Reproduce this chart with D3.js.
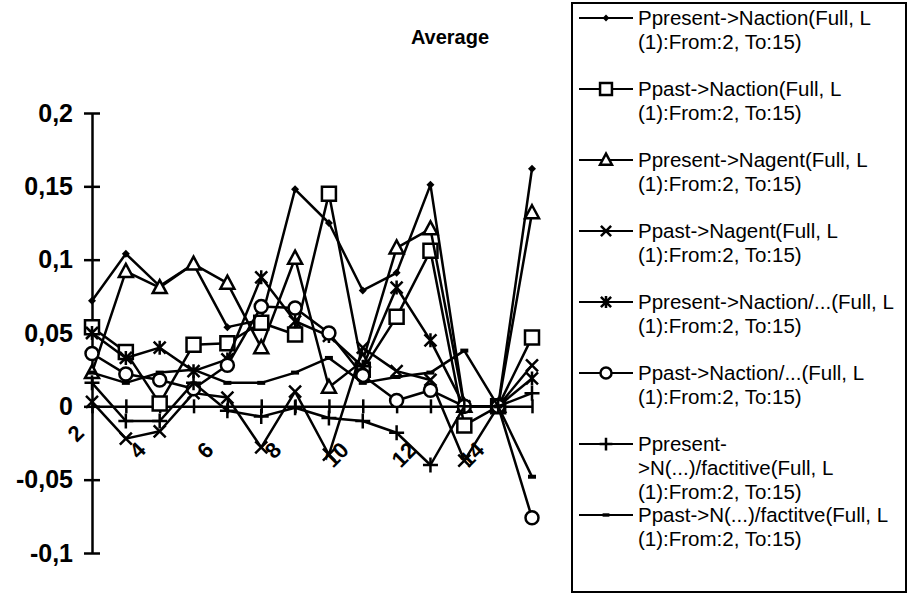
<!DOCTYPE html>
<html>
<head>
<meta charset="utf-8">
<script src="https://cdn.jsdelivr.net/npm/d3@7"></script>
<style>
  body { margin: 0; background: #fff; }
  svg { display: block; }
</style>
</head>
<body>
<svg id="chart" width="908" height="594"></svg>
<script>
// Categories (window start) and the labelled subset
const categories = [2, 3, 4, 5, 6, 7, 8, 9, 10, 11, 12, 13, 14, 15];
const xTickLabels = [2, 4, 6, 8, 10, 12, 14];
const yTicks = [-0.1, -0.05, 0, 0.05, 0.1, 0.15, 0.2];

// Series values, one per category
const presentAction       = [0.072, 0.104, 0.082, 0.097, 0.054, 0.059, 0.148, 0.125, 0.079, 0.091, 0.151, 0, 0, 0.162];
const pastAction          = [0.054, 0.037, 0.002, 0.042, 0.043, 0.057, 0.049, 0.145, 0.025, 0.061, 0.106, -0.013, 0, 0.047];
const presentAgent        = [0.023, 0.092, 0.081, 0.097, 0.084, 0.040, 0.101, 0.013, 0.031, 0.108, 0.121, 0, 0, 0.132];
const pastAgent           = [0.003, -0.022, -0.017, 0.009, 0.006, -0.028, 0.010, -0.033, 0.040, 0.024, 0.018, -0.037, 0, 0.028];
const presentActionOther  = [0.050, 0.033, 0.040, 0.024, 0.032, 0.088, 0.058, 0.048, 0.027, 0.081, 0.045, 0, 0, 0.019];
const pastActionOther     = [0.036, 0.022, 0.018, 0.012, 0.028, 0.068, 0.067, 0.050, 0.021, 0.004, 0.011, 0, 0, -0.076];
const presentFactitive    = [0.016, -0.010, -0.010, 0.016, -0.003, -0.007, -0.001, -0.008, -0.010, -0.018, -0.040, 0, 0, 0.009];
const pastFactitive       = [0.023, 0.016, 0.023, 0.025, 0.016, 0.016, 0.023, 0.033, 0.016, 0.020, 0.023, 0.038, 0, -0.048];

const seriesNames = [
  "Ppresent->Naction(Full, L (1):From:2, To:15)",
  "Ppast->Naction(Full, L (1):From:2, To:15)",
  "Ppresent->Nagent(Full, L (1):From:2, To:15)",
  "Ppast->Nagent(Full, L (1):From:2, To:15)",
  "Ppresent->Naction/...(Full, L (1):From:2, To:15)",
  "Ppast->Naction/...(Full, L (1):From:2, To:15)",
  "Ppresent->N(...)/factitive(Full, L (1):From:2, To:15)",
  "Ppast->N(...)/factitve(Full, L (1):From:2, To:15)"
];
const seriesValues = [presentAction, pastAction, presentAgent, pastAgent,
                      presentActionOther, pastActionOther, presentFactitive, pastFactitive];
const seriesMarkers = ["diamond", "square", "triangle", "x", "star", "circle", "plus", "dash"];

const W = 908, H = 594;
const FONT = "'Liberation Sans', Arial, Helvetica, sans-serif";
const svg = d3.select("#chart");
svg.append("rect").attr("width", W).attr("height", H).attr("fill", "#fff");

const x = d3.scalePoint().domain(categories).range([92, 532]);
const y = d3.scaleLinear().domain([-0.1, 0.2]).range([553, 113]);

// Marker shapes, centred on the origin
function markerPath(type, k = 1) {
  const p = d3.path();
  switch (type) {
    case "square": p.rect(-7 * k, -7 * k, 14 * k, 14 * k); break;
    case "triangle": p.moveTo(0, -7.5 * k); p.lineTo(7 * k, 5.5 * k); p.lineTo(-7 * k, 5.5 * k); p.closePath(); break;
    case "circle": p.moveTo(6.5 * k, 0); p.arc(0, 0, 6.5 * k, 0, 2 * Math.PI); break;
    case "diamond": p.moveTo(0, -4 * k); p.lineTo(4 * k, 0); p.lineTo(0, 4 * k); p.lineTo(-4 * k, 0); p.closePath(); break;
    case "x": p.moveTo(-6 * k, -6 * k); p.lineTo(6 * k, 6 * k); p.moveTo(-6 * k, 6 * k); p.lineTo(6 * k, -6 * k); break;
    case "star": p.moveTo(-6 * k, -6 * k); p.lineTo(6 * k, 6 * k); p.moveTo(-6 * k, 6 * k); p.lineTo(6 * k, -6 * k);
                 p.moveTo(0, -7 * k); p.lineTo(0, 7 * k); break;
    case "plus": p.moveTo(-7.5 * k, 0); p.lineTo(7.5 * k, 0); p.moveTo(0, -7.5 * k); p.lineTo(0, 7.5 * k); break;
    case "dash": p.rect(-4 * k, -2 * k, 8 * k, 4 * k); break;
  }
  return p.toString();
}
function styleMarker(sel, type) {
  const filled = type === "diamond" || type === "dash";
  const open = type === "square" || type === "triangle" || type === "circle";
  sel.attr("fill", filled ? "#000" : (open ? "#fff" : "none"))
     .attr("stroke", filled ? "none" : "#000")
     .attr("stroke-width", 2.5)
     .attr("stroke-linejoin", "miter");
}

// Title
svg.append("text")
  .attr("x", 450).attr("y", 44)
  .attr("text-anchor", "middle")
  .attr("font-family", FONT).attr("font-weight", "bold").attr("font-size", 20)
  .text("Average");

// Value axis with decimal comma
const locale = d3.formatLocale({ decimal: ",", thousands: ".", grouping: [3], currency: ["", ""], minus: "-" });
const fmt = locale.format("~g");
const gy = svg.append("g").attr("transform", "translate(92,0)")
  .call(d3.axisLeft(y).tickValues(yTicks).tickFormat(fmt).tickSizeInner(8).tickSizeOuter(0).tickPadding(11));
gy.select(".domain").attr("stroke", "#000").attr("stroke-width", 2.5);
gy.selectAll(".tick line").attr("x1", -8).attr("x2", 8).attr("stroke", "#000").attr("stroke-width", 2.5);
gy.selectAll(".tick text")
  .attr("font-family", FONT).attr("font-weight", "bold").attr("font-size", 25).attr("fill", "#000");

// Category axis crossing at zero; labels rotated, the first one sits closer to the axis corner
const gx = svg.append("g").attr("transform", `translate(0,${y(0)})`)
  .call(d3.axisBottom(x).tickSizeInner(7).tickSizeOuter(0)
    .tickFormat(d => xTickLabels.includes(d) ? String(d) : ""));
gx.select(".domain").attr("stroke", "#000").attr("stroke-width", 2.5);
gx.selectAll(".tick line").attr("y1", -7).attr("y2", 7).attr("stroke", "#000").attr("stroke-width", 2.5);
gx.selectAll(".tick text")
  .attr("y", 0).attr("dy", 0)
  .attr("text-anchor", "end")
  .attr("transform", (d, i) => i === 0 ? "translate(-7,28) rotate(-45)" : "translate(-13,45) rotate(-45)")
  .attr("font-family", FONT).attr("font-weight", "bold").attr("font-size", 22).attr("fill", "#000");

// Series: line, then markers
const line = d3.line().x((d, i) => x(categories[i])).y(d => y(d));
seriesValues.forEach((vals, si) => {
  const g = svg.append("g");
  g.append("path").attr("d", line(vals))
    .attr("fill", "none").attr("stroke", "#000").attr("stroke-width", 2.5)
    .attr("stroke-linejoin", "round");
  g.selectAll("path.m").data(vals).join("path").attr("class", "m")
    .attr("transform", (d, i) => `translate(${x(categories[i])},${y(d)})`)
    .attr("d", markerPath(seriesMarkers[si]))
    .call(styleMarker, seriesMarkers[si]);
});

// Legend
const legend = svg.append("g");
legend.append("rect").attr("x", 572).attr("y", 3).attr("width", 334).attr("height", 589)
  .attr("fill", "#fff").attr("stroke", "#000").attr("stroke-width", 2);

const LEG_FONT = 20.5;
function wrapLabel(str, maxW, size) {
  const probe = legend.append("text").attr("font-family", FONT).attr("font-size", size);
  const width = s => { probe.text(s); return probe.node().getComputedTextLength(); };
  const lines = [];
  let cur = "";
  str.split(" ").forEach(word => {
    const parts = word.match(/[^-]*-|[^-]+$/g) || [word];
    parts.forEach((part, pi) => {
      const sep = (pi === 0 && cur) ? " " : "";
      const cand = cur + sep + part;
      if (cur && width(cand) > maxW) { lines.push(cur); cur = part; }
      else cur = cand;
    });
  });
  if (cur) lines.push(cur);
  probe.remove();
  return lines;
}

const legTop = 18, legStep = 71, lineH = 24;
seriesNames.forEach((name, si) => {
  const cy = legTop + si * legStep;
  const g = legend.append("g");
  g.append("line").attr("x1", 579).attr("x2", 633).attr("y1", cy).attr("y2", cy)
    .attr("stroke", "#000").attr("stroke-width", 2);
  g.append("path").attr("transform", `translate(606,${cy})`)
    .attr("d", markerPath(seriesMarkers[si], 0.85))
    .call(styleMarker, seriesMarkers[si]);
  const lines = wrapLabel(name, 266, LEG_FONT);
  const t = g.append("text").attr("font-family", FONT).attr("font-size", LEG_FONT).attr("fill", "#000");
  lines.forEach((ln, li) => {
    t.append("tspan").attr("x", 638).attr("y", cy + li * lineH).attr("dy", "0.35em").text(ln);
  });
});
</script>
</body>
</html>
